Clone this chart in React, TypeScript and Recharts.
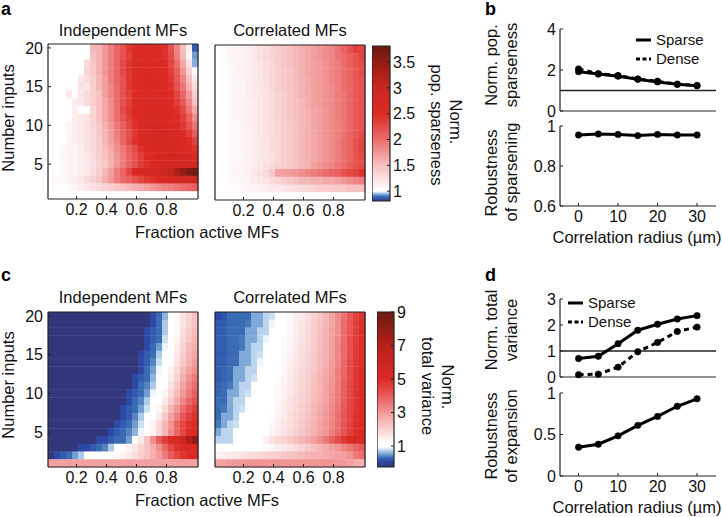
import {
  Bar,
  BarChart,
  Line,
  LineChart,
  ReferenceLine,
  Scatter,
  ScatterChart,
  XAxis,
  YAxis,
} from "recharts";

const FONT = "'Liberation Sans', Arial, sans-serif";
const INK = "#222";

// column and row positions of the heat maps
const fractions = [
  0.03, 0.07, 0.11, 0.15, 0.19, 0.23, 0.27, 0.31, 0.35, 0.39, 0.43, 0.47, 0.51,
  0.55, 0.59, 0.63, 0.67, 0.71, 0.75, 0.79, 0.83, 0.87, 0.91, 0.95, 0.99,
];
const inputs = [20, 19, 18, 17, 16, 15, 14, 13, 12, 11, 10, 9, 8, 7, 6, 5, 4, 3, 2, 1];

const fractionTicks = [0.2, 0.4, 0.6, 0.8];
const inputTicks = [5, 10, 15, 20];
const radiusTicks = [0, 10, 20, 30];
const radii = [0, 5, 10, 15, 20, 25, 30];

// rows run from 20 inputs (top) down to 1 input (bottom)
const sparsenessIndependent = [
  [1, 1, 1, 1, 1, 1, 1, 1.55, 1.6, 1.75, 1.9, 2.05, 2.2, 2.4, 2.5, 2.55, 2.55, 2.55, 2.5, 2.45, 2.2, 1.85, 1.5, 1.15, 0.87],
  [1, 1, 1, 1, 1, 1, 1, 1.5, 1.6, 1.75, 1.9, 2.05, 2.2, 2.35, 2.5, 2.55, 2.6, 2.6, 2.55, 2.45, 2.25, 1.9, 1.55, 1.1, 0.93],
  [1, 1, 1, 1, 1, 1, 1.3, 1.45, 1.6, 1.75, 1.9, 2.05, 2.25, 2.4, 2.5, 2.6, 2.6, 2.6, 2.55, 2.5, 2.3, 2, 1.65, 1.25, 0.94],
  [1, 1, 1, 1, 1, 1, 1.35, 1.45, 1.6, 1.75, 1.9, 2.05, 2.25, 2.4, 2.5, 2.6, 2.6, 2.6, 2.55, 2.5, 2.35, 2.1, 1.75, 1.35, 1.05],
  [1, 1, 1, 1, 1, 1.2, 1.3, 1.4, 1.55, 1.7, 1.9, 2.05, 2.2, 2.4, 2.5, 2.6, 2.6, 2.6, 2.6, 2.5, 2.4, 2.15, 1.85, 1.5, 1.2],
  [1, 1, 1, 1, 1, 1.25, 1.2, 1.4, 1.55, 1.7, 1.85, 2, 2.2, 2.4, 2.5, 2.6, 2.6, 2.65, 2.6, 2.55, 2.45, 2.2, 1.95, 1.6, 1.3],
  [1, 1, 1, 1.2, 1, 1.2, 1.3, 1.4, 1.5, 1.7, 1.85, 2, 2.2, 2.35, 2.5, 2.6, 2.6, 2.65, 2.6, 2.6, 2.5, 2.3, 2.05, 1.75, 1.4],
  [1, 1, 1, 1, 1.15, 1.2, 1.3, 1.4, 1.5, 1.65, 1.8, 2, 2.2, 2.35, 2.5, 2.6, 2.65, 2.65, 2.65, 2.6, 2.5, 2.35, 2.15, 1.85, 1.5],
  [1, 1, 1, 1, 1.15, 1, 1, 1.35, 1.5, 1.65, 1.8, 2, 2.25, 2.4, 2.55, 2.6, 2.65, 2.7, 2.65, 2.6, 2.55, 2.45, 2.25, 1.95, 1.65],
  [1, 1, 1, 1, 1.15, 1.2, 1.25, 1.35, 1.5, 1.65, 1.8, 2, 2.2, 2.35, 2.5, 2.6, 2.65, 2.7, 2.65, 2.65, 2.6, 2.5, 2.35, 2.1, 1.8],
  [1, 1, 1, 1.1, 1.15, 1.2, 1.25, 1.35, 1.45, 1.6, 1.75, 1.95, 2.1, 2.3, 2.45, 2.6, 2.65, 2.7, 2.7, 2.65, 2.6, 2.55, 2.4, 2.2, 1.95],
  [1, 1, 1, 1.1, 1.15, 1.2, 1.25, 1.3, 1.45, 1.55, 1.7, 1.9, 2.05, 2.2, 2.4, 2.55, 2.6, 2.7, 2.7, 2.7, 2.7, 2.6, 2.5, 2.35, 2.1],
  [1, 1, 1, 1.1, 1.15, 1.2, 1.25, 1.3, 1.4, 1.55, 1.7, 1.85, 2.05, 2.25, 2.45, 2.6, 2.7, 2.75, 2.75, 2.75, 2.7, 2.7, 2.6, 2.5, 2.3],
  [1, 1, 1.05, 1.1, 1.1, 1.15, 1.25, 1.3, 1.4, 1.5, 1.65, 1.8, 1.95, 2.1, 2.25, 2.45, 2.6, 2.7, 2.75, 2.75, 2.75, 2.7, 2.65, 2.55, 2.45],
  [1, 1, 1.05, 1.1, 1.1, 1.15, 1.2, 1.3, 1.4, 1.5, 1.6, 1.75, 1.9, 2.05, 2.2, 2.35, 2.5, 2.6, 2.7, 2.75, 2.75, 2.75, 2.7, 2.7, 2.6],
  [1, 1.03, 1.05, 1.1, 1.1, 1.15, 1.2, 1.25, 1.35, 1.45, 1.6, 1.75, 1.9, 2.05, 2.2, 2.35, 2.45, 2.6, 2.65, 2.7, 2.75, 2.75, 2.75, 2.75, 2.7],
  [1, 1.03, 1.05, 1.1, 1.1, 1.15, 1.2, 1.3, 1.4, 1.55, 1.7, 1.9, 2.05, 2.3, 2.6, 2.7, 2.75, 2.85, 2.85, 2.95, 3.1, 3.3, 3.5, 3.65, 3.75],
  [1, 1.05, 1.05, 1.1, 1.15, 1.2, 1.3, 1.35, 1.45, 1.6, 1.75, 1.9, 2, 2.1, 2.2, 2.3, 2.4, 2.45, 2.55, 2.6, 2.7, 2.75, 2.8, 2.85, 2.9],
  [1, 1.03, 1.03, 1.05, 1.1, 1.15, 1.2, 1.25, 1.3, 1.35, 1.4, 1.45, 1.5, 1.55, 1.6, 1.65, 1.7, 1.75, 1.8, 1.85, 1.9, 1.95, 2, 2.05, 2.1],
  [1, 1, 1, 1, 1, 1, 1, 1, 1, 1, 1, 1, 1, 1, 1, 1, 1, 1, 1, 1, 1, 1, 1, 1, 1],
];

const sparsenessCorrelated = [
  [1, 1.03, 1.08, 1.1, 1.12, 1.15, 1.2, 1.25, 1.3, 1.35, 1.4, 1.45, 1.5, 1.55, 1.6, 1.65, 1.7, 1.75, 1.8, 1.85, 1.95, 2.05, 2.2, 2.35, 2.3],
  [1, 1.03, 1.07, 1.1, 1.12, 1.15, 1.2, 1.25, 1.3, 1.35, 1.4, 1.45, 1.5, 1.55, 1.6, 1.65, 1.7, 1.75, 1.8, 1.85, 1.95, 2, 2.1, 2.2, 2.3],
  [1, 1.03, 1.07, 1.1, 1.12, 1.15, 1.2, 1.22, 1.28, 1.33, 1.4, 1.45, 1.5, 1.55, 1.6, 1.65, 1.7, 1.72, 1.78, 1.85, 1.9, 2, 2.1, 2.2, 2.25],
  [1, 1.03, 1.06, 1.1, 1.12, 1.15, 1.18, 1.22, 1.28, 1.33, 1.38, 1.43, 1.48, 1.53, 1.6, 1.65, 1.7, 1.72, 1.78, 1.85, 1.9, 1.98, 2.05, 2.15, 2.25],
  [1, 1.03, 1.06, 1.08, 1.1, 1.15, 1.18, 1.22, 1.26, 1.32, 1.38, 1.42, 1.48, 1.53, 1.58, 1.63, 1.68, 1.72, 1.78, 1.85, 1.9, 1.98, 2.05, 2.15, 2.2],
  [1, 1.03, 1.06, 1.08, 1.1, 1.15, 1.18, 1.2, 1.26, 1.32, 1.38, 1.42, 1.48, 1.52, 1.58, 1.62, 1.68, 1.72, 1.78, 1.82, 1.9, 1.98, 2.05, 2.15, 2.2],
  [1, 1.03, 1.05, 1.08, 1.1, 1.15, 1.18, 1.2, 1.25, 1.3, 1.36, 1.4, 1.46, 1.52, 1.58, 1.62, 1.68, 1.72, 1.78, 1.82, 1.9, 1.95, 2.05, 2.15, 2.2],
  [1, 1.03, 1.05, 1.08, 1.1, 1.13, 1.16, 1.2, 1.25, 1.3, 1.36, 1.4, 1.45, 1.5, 1.55, 1.62, 1.68, 1.72, 1.78, 1.82, 1.9, 1.95, 2.05, 2.15, 2.2],
  [1, 1.02, 1.05, 1.08, 1.1, 1.13, 1.16, 1.2, 1.25, 1.3, 1.35, 1.4, 1.45, 1.5, 1.55, 1.6, 1.66, 1.7, 1.76, 1.82, 1.88, 1.95, 2.05, 2.15, 2.2],
  [1, 1.02, 1.05, 1.08, 1.1, 1.13, 1.16, 1.2, 1.24, 1.3, 1.35, 1.4, 1.45, 1.5, 1.55, 1.6, 1.66, 1.7, 1.76, 1.82, 1.88, 1.95, 2.05, 2.15, 2.2],
  [1, 1.02, 1.05, 1.07, 1.1, 1.13, 1.16, 1.2, 1.24, 1.28, 1.34, 1.4, 1.45, 1.5, 1.55, 1.6, 1.66, 1.7, 1.76, 1.82, 1.88, 1.95, 2.05, 2.15, 2.2],
  [1, 1.02, 1.05, 1.07, 1.1, 1.12, 1.15, 1.18, 1.24, 1.28, 1.34, 1.4, 1.44, 1.5, 1.55, 1.6, 1.65, 1.7, 1.76, 1.82, 1.88, 1.95, 2.05, 2.15, 2.25],
  [1, 1.02, 1.04, 1.07, 1.1, 1.12, 1.15, 1.18, 1.22, 1.28, 1.32, 1.38, 1.44, 1.5, 1.55, 1.6, 1.65, 1.7, 1.76, 1.82, 1.9, 1.98, 2.05, 2.2, 2.3],
  [1, 1.02, 1.04, 1.07, 1.1, 1.12, 1.15, 1.18, 1.22, 1.28, 1.32, 1.38, 1.44, 1.5, 1.55, 1.6, 1.65, 1.7, 1.76, 1.82, 1.9, 1.98, 2.05, 2.2, 2.3],
  [1, 1.02, 1.04, 1.06, 1.08, 1.12, 1.15, 1.18, 1.22, 1.26, 1.32, 1.38, 1.44, 1.5, 1.55, 1.6, 1.65, 1.7, 1.76, 1.82, 1.9, 1.98, 2.05, 2.2, 2.25],
  [1, 1.03, 1.05, 1.08, 1.1, 1.12, 1.15, 1.2, 1.25, 1.3, 1.35, 1.4, 1.45, 1.5, 1.55, 1.6, 1.7, 1.75, 1.8, 1.85, 1.95, 2, 2.1, 2.2, 2.25],
  [1, 1.03, 1.05, 1.08, 1.1, 1.12, 1.2, 1.25, 1.3, 1.45, 1.68, 1.7, 1.72, 1.75, 1.8, 1.85, 1.9, 1.95, 2, 2.05, 2.1, 2.2, 2.25, 2.3, 2.45],
  [1, 1.02, 1.04, 1.06, 1.08, 1.1, 1.15, 1.2, 1.25, 1.3, 1.35, 1.4, 1.45, 1.5, 1.55, 1.55, 1.6, 1.6, 1.65, 1.65, 1.7, 1.75, 1.8, 1.85, 1.9],
  [1, 1, 1.02, 1.04, 1.06, 1.08, 1.1, 1.12, 1.15, 1.18, 1.2, 1.22, 1.25, 1.28, 1.3, 1.32, 1.35, 1.38, 1.4, 1.42, 1.45, 1.45, 1.5, 1.5, 1.5],
  [1, 1, 1, 1, 1, 1, 1, 1, 1, 1, 1, 1, 1, 1, 1, 1, 1, 1, 1, 1, 1, 1, 1, 1, 1],
];

const N = -0.25; // saturated navy cells
const varianceIndependent = [
  [N, N, N, N, N, N, N, N, N, N, N, N, N, N, N, N, N, 0.1, 0.3, 0.6, 1, 1.3, 1.7, 2, 2.3],
  [N, N, N, N, N, N, N, N, N, N, N, N, N, N, N, N, N, 0.1, 0.3, 0.7, 1, 1.3, 1.7, 2, 2.3],
  [N, N, N, N, N, N, N, N, N, N, N, N, N, N, N, N, 0.1, 0.2, 0.3, 0.7, 1, 1.3, 1.8, 2.1, 2.4],
  [N, N, N, N, N, N, N, N, N, N, N, N, N, N, N, N, 0.1, 0.2, 0.3, 0.8, 1, 1.4, 1.9, 2.2, 2.5],
  [N, N, N, N, N, N, N, N, N, N, N, N, N, N, N, N, 0.1, 0.3, 0.5, 0.9, 1, 1.5, 2, 2.4, 2.6],
  [N, N, N, N, N, N, N, N, N, N, N, N, N, N, N, 0.1, 0.2, 0.3, 0.7, 1, 1.1, 1.6, 2.1, 2.5, 2.8],
  [N, N, N, N, N, N, N, N, N, N, N, N, N, N, N, 0.1, 0.2, 0.4, 0.8, 1, 1.2, 1.7, 2.2, 2.6, 3],
  [N, N, N, N, N, N, N, N, N, N, N, N, N, N, N, 0.1, 0.3, 0.5, 0.9, 1, 1.4, 1.9, 2.4, 2.9, 3.2],
  [N, N, N, N, N, N, N, N, N, N, N, N, N, N, 0.1, 0.2, 0.3, 0.6, 1, 1.1, 1.5, 2, 2.6, 3.1, 3.5],
  [N, N, N, N, N, N, N, N, N, N, N, N, N, N, 0.1, 0.3, 0.4, 0.7, 1, 1.2, 1.7, 2.2, 2.8, 3.3, 3.7],
  [N, N, N, N, N, N, N, N, N, N, N, N, N, 0.1, 0.2, 0.3, 0.5, 0.9, 1, 1.4, 1.9, 2.4, 3, 3.5, 3.9],
  [N, N, N, N, N, N, N, N, N, N, N, N, N, 0.1, 0.3, 0.4, 0.7, 1, 1.1, 1.6, 2.1, 2.7, 3.3, 3.8, 4.2],
  [N, N, N, N, N, N, N, N, N, N, N, N, 0.1, 0.2, 0.3, 0.5, 0.8, 1, 1.4, 1.9, 2.5, 3.1, 3.7, 4.2, 4.6],
  [N, N, N, N, N, N, N, N, N, N, N, N, 0.1, 0.2, 0.4, 0.7, 1, 1.2, 1.6, 2.2, 2.8, 3.4, 4, 4.5, 4.9],
  [N, N, N, N, N, N, N, N, N, N, N, 0.1, 0.2, 0.3, 0.5, 0.8, 1, 1.4, 1.9, 2.5, 3.1, 3.8, 4.4, 4.8, 5],
  [N, N, N, N, N, N, N, N, N, N, 0.1, 0.2, 0.3, 0.4, 0.6, 0.9, 1, 1.4, 1.9, 2.5, 3.2, 3.8, 4.4, 4.9, 5],
  [N, N, N, N, N, N, N, N, 0.1, 0.1, 0.2, 0.3, 0.3, 0.5, 1.1, 1.6, 2.3, 3.2, 4, 4.6, 5, 5.3, 6, 7.2, 8],
  [N, N, N, N, N, 0.1, 0.1, 0.2, 0.3, 0.4, 0.7, 1, 1.2, 1.4, 1.6, 2, 2.3, 2.7, 3.2, 3.8, 4.4, 4.8, 5, 5.1, 5.2],
  [N, 0.1, 0.2, 0.3, 0.5, 0.7, 1, 1, 1.05, 1.1, 1.2, 1.3, 1.4, 1.6, 1.8, 2, 2.3, 2.6, 3, 3.5, 4, 4.4, 4.8, 5, 5.1],
  [2.9, 2.9, 2.9, 2.9, 2.9, 2.9, 2.9, 2.9, 2.9, 2.9, 2.9, 2.9, 2.9, 2.9, 2.9, 2.9, 2.9, 2.9, 2.9, 2.9, 2.9, 2.9, 2.9, 2.9, 2.9],
];

const varianceCorrelated = [
  [0.1, 0.15, 0.3, 0.3, 0.3, 0.3, 0.55, 0.55, 0.75, 0.8, 1, 1.15, 1.3, 1.5, 1.6, 1.8, 2, 2.2, 2.5, 2.8, 3.2, 3.6, 4, 4.5, 4.8],
  [0.2, 0.2, 0.3, 0.3, 0.3, 0.35, 0.55, 0.55, 0.75, 0.9, 1, 1.15, 1.3, 1.5, 1.65, 1.85, 2.05, 2.25, 2.5, 2.8, 3.2, 3.7, 4.1, 4.6, 4.9],
  [0.2, 0.2, 0.3, 0.3, 0.3, 0.55, 0.55, 0.75, 0.75, 1, 1.05, 1.2, 1.35, 1.5, 1.7, 1.85, 2.05, 2.3, 2.55, 2.85, 3.2, 3.7, 4.1, 4.6, 4.9],
  [0.2, 0.2, 0.3, 0.3, 0.35, 0.55, 0.55, 0.75, 0.9, 1, 1.1, 1.25, 1.4, 1.55, 1.7, 1.9, 2.1, 2.3, 2.55, 2.85, 3.25, 3.7, 4.2, 4.6, 4.9],
  [0.2, 0.2, 0.3, 0.3, 0.35, 0.55, 0.75, 0.75, 1, 1, 1.1, 1.25, 1.4, 1.6, 1.75, 1.9, 2.1, 2.35, 2.6, 2.9, 3.3, 3.75, 4.2, 4.7, 4.9],
  [0.2, 0.2, 0.3, 0.3, 0.55, 0.55, 0.75, 0.8, 1, 1, 1.15, 1.3, 1.45, 1.6, 1.8, 1.95, 2.15, 2.4, 2.6, 2.9, 3.3, 3.75, 4.2, 4.7, 4.9],
  [0.2, 0.2, 0.3, 0.3, 0.55, 0.55, 0.75, 0.9, 1, 1, 1.2, 1.3, 1.5, 1.65, 1.8, 2, 2.2, 2.4, 2.65, 2.95, 3.3, 3.8, 4.3, 4.7, 4.9],
  [0.2, 0.25, 0.3, 0.55, 0.55, 0.75, 0.75, 1, 1, 1, 1.2, 1.35, 1.5, 1.7, 1.85, 2, 2.2, 2.45, 2.7, 3, 3.4, 3.8, 4.3, 4.7, 4.95],
  [0.2, 0.25, 0.3, 0.55, 0.55, 0.75, 0.8, 1, 1, 1, 1.25, 1.4, 1.55, 1.75, 1.9, 2.05, 2.25, 2.5, 2.75, 3.05, 3.4, 3.85, 4.3, 4.75, 5],
  [0.25, 0.3, 0.35, 0.55, 0.75, 0.75, 1, 1, 1, 1, 1.3, 1.45, 1.6, 1.75, 1.95, 2.1, 2.3, 2.5, 2.8, 3.1, 3.45, 3.9, 4.35, 4.75, 5],
  [0.25, 0.3, 0.55, 0.55, 0.75, 0.8, 1, 1, 1, 1.1, 1.3, 1.45, 1.65, 1.8, 2, 2.15, 2.35, 2.55, 2.85, 3.15, 3.5, 3.9, 4.4, 4.8, 5],
  [0.3, 0.3, 0.55, 0.75, 0.75, 1, 1, 1, 1, 1.15, 1.35, 1.5, 1.7, 1.85, 2, 2.2, 2.4, 2.6, 2.9, 3.2, 3.5, 3.95, 4.4, 4.8, 5],
  [0.3, 0.35, 0.55, 0.75, 0.8, 1, 1, 1, 1.05, 1.2, 1.4, 1.55, 1.7, 1.9, 2.05, 2.25, 2.45, 2.7, 2.95, 3.25, 3.6, 4, 4.4, 4.8, 5],
  [0.3, 0.55, 0.55, 0.75, 1, 1, 1, 1, 1.1, 1.25, 1.45, 1.6, 1.75, 1.95, 2.1, 2.3, 2.5, 2.75, 3, 3.3, 3.65, 4.05, 4.45, 4.85, 5.05],
  [0.35, 0.55, 0.75, 0.8, 1, 1, 1, 1.05, 1.15, 1.3, 1.5, 1.65, 1.8, 2, 2.15, 2.35, 2.55, 2.8, 3.05, 3.35, 3.7, 4.1, 4.5, 4.85, 5.05],
  [0.55, 0.75, 0.75, 1, 1, 1, 1.05, 1.1, 1.2, 1.4, 1.55, 1.7, 1.85, 2.05, 2.2, 2.4, 2.6, 2.85, 3.1, 3.4, 3.75, 4.15, 4.55, 4.9, 5.1],
  [0.75, 0.75, 0.75, 1, 1, 1, 1.1, 1.2, 1.5, 1.75, 1.9, 2, 2.2, 2.35, 2.5, 2.7, 2.9, 3.2, 3.5, 3.9, 4.3, 4.7, 5, 5.2, 5.3],
  [1, 1, 1, 1, 1, 1.05, 1.1, 1.2, 1.3, 1.4, 1.5, 1.6, 1.7, 1.85, 2, 2.15, 2.3, 2.5, 2.7, 2.9, 3.1, 3.35, 3.6, 3.8, 4],
  [1.4, 1.5, 1.6, 1.65, 1.7, 1.8, 1.85, 1.9, 2, 2.05, 2.1, 2.2, 2.25, 2.3, 2.4, 2.5, 2.55, 2.6, 2.7, 2.75, 2.85, 2.9, 3.1, 3.5, 3.7],
  [2.9, 2.9, 3, 3, 3, 3.1, 3.1, 3.1, 3.1, 3.1, 3.1, 3.1, 3.1, 3.1, 3.1, 3.1, 3.1, 3.1, 3.1, 3.1, 3, 3, 2.9, 2.7, 2.6],
];

// line panels
const sparsenessSparse = [1.92, 1.8, 1.7, 1.55, 1.42, 1.3, 1.23];
const sparsenessDense = [2.05, 1.82, 1.73, 1.56, 1.45, 1.31, 1.25];
const sparseningRobustness = [0.955, 0.96, 0.958, 0.952, 0.958, 0.955, 0.955];
const varianceSparse = [0.71, 0.8, 1.28, 1.8, 2.03, 2.23, 2.36];
const varianceDense = [0.09, 0.11, 0.38, 0.97, 1.33, 1.75, 1.92];
const expansionRobustness = [0.347, 0.383, 0.484, 0.61, 0.718, 0.84, 0.93];

type Stop = [number, string];

const sparsenessStops: Stop[] = [
  [0.81, "#2b3a8c"], [0.9, "#3a6fb7"], [0.96, "#a9cbe9"], [1, "#ffffff"], [1.15, "#fdeeee"],
  [1.5, "#f7c1c1"], [2, "#ec6c6c"], [2.5, "#dc2a24"], [3, "#c92620"], [3.4, "#a01d14"], [3.81, "#6a1a10"],
];
const varianceStops: Stop[] = [
  [-0.25, "#32367a"], [0.1, "#2c49a8"], [0.3, "#3a6cb6"], [0.55, "#7fa9d6"], [0.75, "#bcd5ee"],
  [0.95, "#ffffff"], [1.2, "#ffffff"], [3, "#f29a9a"], [4, "#e85a5a"], [5, "#dc2a24"], [7, "#b8211a"], [9, "#6a1a10"],
];

function colorAt(stops: Stop[], v: number) {
  for (let i = 1; i < stops.length; i++) {
    if (v <= stops[i][0]) {
      const [a, ca] = stops[i - 1];
      const [b, cb] = stops[i];
      const t = Math.max(0, (v - a) / (b - a));
      const mix = [1, 3, 5].map((k) => {
        const p = parseInt(ca.slice(k, k + 2), 16);
        const q = parseInt(cb.slice(k, k + 2), 16);
        return Math.round(p + (q - p) * t);
      });
      return `rgb(${mix.join(",")})`;
    }
  }
  return stops[stops.length - 1][1];
}

const toCells = (rows: number[][]) =>
  rows.flatMap((row, i) => row.map((v, j) => ({ x: fractions[j], y: inputs[i], v })));

const tickStyle = { fontSize: 16, fill: "#111", fontFamily: FONT };
const axisLine = { stroke: INK, strokeWidth: 1.2 };
const tickLine = { stroke: INK, strokeWidth: 1 };

interface HeatProps {
  rows: number[][];
  stops: Stop[];
  left: number;
  top: number;
  showY?: boolean;
}

function Heatmap({ rows, stops, left, top, showY }: HeatProps) {
  const w = 150;
  const h = 155;
  const cw = w / fractions.length;
  const ch = h / inputs.length;
  return (
    <div style={{ position: "absolute", left: left - 46, top: top - 6 }}>
      <ScatterChart width={w + 56} height={h + 36} margin={{ top: 5, right: 9, bottom: 0, left: 0 }}>
        <Scatter
          data={toCells(rows)}
          isAnimationActive={false}
          zIndex={100}
          shape={(p: any) => (
            <rect
              x={p.cx - cw / 2}
              y={p.cy - ch / 2}
              width={cw + 0.4}
              height={ch + 0.4}
              fill={colorAt(stops, p.payload.v)}
            />
          )}
        />
        <XAxis
          type="number"
          dataKey="x"
          domain={[0.01, 1.01]}
          ticks={fractionTicks}
          height={30}
          tickSize={-3}
          tickMargin={8}
          axisLine={axisLine}
          tickLine={tickLine}
          tick={tickStyle}
          interval={0}
          zIndex={700}
        />
        <XAxis
          xAxisId="top"
          orientation="top"
          type="number"
          domain={[0.01, 1.01]}
          ticks={fractionTicks}
          height={1}
          tickSize={-3}
          axisLine={axisLine}
          tickLine={tickLine}
          tick={false}
          zIndex={700}
        />
        <YAxis
          type="number"
          dataKey="y"
          domain={[0.5, 20.5]}
          ticks={inputTicks}
          width={46}
          tickSize={-3}
          tickMargin={8}
          axisLine={axisLine}
          tickLine={tickLine}
          tick={showY ? tickStyle : false}
          interval={0}
          zIndex={700}
        />
        <YAxis
          yAxisId="right"
          orientation="right"
          type="number"
          domain={[0.5, 20.5]}
          ticks={inputTicks}
          width={1}
          tickSize={-3}
          axisLine={axisLine}
          tickLine={tickLine}
          tick={false}
          zIndex={700}
        />
      </ScatterChart>
    </div>
  );
}

interface BarProps {
  id: string;
  stops: Stop[];
  ticks: number[];
  left: number;
  top: number;
  width: number;
}

function Colorbar({ id, stops, ticks, left, top, width }: BarProps) {
  const lo = stops[0][0];
  const hi = stops[stops.length - 1][0];
  return (
    <div style={{ position: "absolute", left, top: top - 12 }}>
      <BarChart
        width={width + 36}
        height={155 + 24}
        data={[{ name: "scale", range: [lo, hi] }]}
        margin={{ top: 12, right: 0, bottom: 12, left: 0 }}
        barCategoryGap={0}
      >
        <defs>
          <linearGradient id={id} x1="0" y1="0" x2="0" y2="1">
            {[...stops].reverse().map(([v, c]) => (
              <stop key={v} offset={(hi - v) / (hi - lo)} stopColor={c} />
            ))}
          </linearGradient>
        </defs>
        <XAxis dataKey="name" hide />
        <YAxis
          orientation="right"
          type="number"
          domain={[lo, hi]}
          ticks={ticks}
          width={36}
          tickSize={-3}
          tickMargin={6}
          axisLine={false}
          tickLine={tickLine}
          tick={tickStyle}
          interval={0}
        />
        <Bar dataKey="range" fill={`url(#${id})`} stroke={INK} strokeWidth={1.2} isAnimationActive={false} />
      </BarChart>
    </div>
  );
}

interface LinePanelProps {
  top: number;
  height: number;
  domain: [number, number];
  yTicks: number[];
  series: { name: string; values: number[]; dashed?: boolean }[];
  reference?: number;
  showX?: boolean;
}

function LinePanel({ top, height, domain, yTicks, series, reference, showX }: LinePanelProps) {
  const rows = radii.map((r, i) => {
    const row: Record<string, number> = { r };
    series.forEach((s) => (row[s.name] = s.values[i]));
    return row;
  });
  return (
    <div style={{ position: "absolute", left: 510, top: top - 12 }}>
      <LineChart width={210} height={height + 42} data={rows} margin={{ top: 12, right: 4, bottom: 0, left: 0 }}>
        <XAxis
          type="number"
          dataKey="r"
          domain={[-4.7, 34.8]}
          ticks={radiusTicks}
          height={30}
          tickSize={-3}
          tickMargin={8}
          axisLine={axisLine}
          tickLine={tickLine}
          tick={showX ? tickStyle : false}
          interval={0}
        />
        <YAxis
          type="number"
          domain={domain}
          ticks={yTicks}
          width={50}
          tickSize={-3}
          tickMargin={7}
          axisLine={axisLine}
          tickLine={tickLine}
          tick={tickStyle}
          interval={0}
        />
        {reference !== undefined && <ReferenceLine y={reference} stroke={INK} strokeWidth={1.3} />}
        {series.map((s) => (
          <Line
            key={s.name}
            dataKey={s.name}
            stroke="#000"
            strokeWidth={3}
            strokeDasharray={s.dashed ? "5 4" : undefined}
            dot={{ r: 3.2, fill: "#000", stroke: "#000", strokeWidth: 0.6, strokeDasharray: "" }}
            isAnimationActive={false}
          />
        ))}
      </LineChart>
    </div>
  );
}

function Rot({ x, y, angle = -90, children }: { x: number; y: number; angle?: number; children: string }) {
  return (
    <text x={x} y={y} textAnchor="middle" transform={`rotate(${angle} ${x} ${y})`}>
      {children}
    </text>
  );
}

function Mid({ x, y, children }: { x: number; y: number; children: string }) {
  return (
    <text x={x} y={y} textAnchor="middle">
      {children}
    </text>
  );
}

function LegendKey({ x, y, label }: { x: number; y: number; label: string }) {
  const dashed = label === "Dense";
  return (
    <g>
      <line
        x1={x}
        x2={x + 15}
        y1={y}
        y2={y}
        stroke="#000"
        strokeWidth={3}
        strokeDasharray={dashed ? "4 2.5" : undefined}
      />
      <text x={x + 20} y={y + 5} fontSize={15}>
        {label}
      </text>
    </g>
  );
}

export default function App() {
  return (
    <div style={{ position: "absolute", left: 0, top: 0, width: 722, height: 517, background: "#fff", fontFamily: FONT }}>
      <Heatmap rows={sparsenessIndependent} stops={sparsenessStops} left={48} top={44} showY />
      <Heatmap rows={sparsenessCorrelated} stops={sparsenessStops} left={215} top={45} />
      <Colorbar id="cbSparseness" stops={sparsenessStops} ticks={[1, 1.5, 2, 2.5, 3, 3.5]} left={372} top={46} width={18} />

      <Heatmap rows={varianceIndependent} stops={varianceStops} left={48} top={312} showY />
      <Heatmap rows={varianceCorrelated} stops={varianceStops} left={215} top={312} />
      <Colorbar id="cbVariance" stops={varianceStops} ticks={[1, 3, 5, 7, 9]} left={377} top={312} width={17} />

      <LinePanel
        top={29}
        height={82}
        domain={[0, 4]}
        yTicks={[0, 2, 4]}
        reference={1}
        series={[
          { name: "Dense", values: sparsenessDense, dashed: true },
          { name: "Sparse", values: sparsenessSparse },
        ]}
      />
      <LinePanel
        top={126}
        height={80}
        domain={[0.6, 1]}
        yTicks={[0.6, 0.8, 1]}
        series={[{ name: "Robustness", values: sparseningRobustness }]}
        showX
      />
      <LinePanel
        top={299}
        height={78}
        domain={[0, 3]}
        yTicks={[0, 1, 2, 3]}
        reference={1}
        series={[
          { name: "Dense", values: varianceDense, dashed: true },
          { name: "Sparse", values: varianceSparse },
        ]}
      />
      <LinePanel
        top={393}
        height={83}
        domain={[0, 1]}
        yTicks={[0, 0.5, 1]}
        series={[{ name: "Robustness", values: expansionRobustness }]}
        showX
      />

      <svg width={722} height={517} style={{ position: "absolute", left: 0, top: 0, pointerEvents: "none" }} fontFamily={FONT} fontSize={16.5} fill="#111">
        <g fontSize={18} fontWeight="bold" fill="#000">
          <text x={1} y={15}>a</text>
          <text x={485} y={15}>b</text>
          <text x={1} y={281}>c</text>
          <text x={485} y={281}>d</text>
        </g>
        <Mid x={123} y={36}>Independent MFs</Mid>
        <Mid x={290} y={36}>Correlated MFs</Mid>
        <Mid x={123} y={303}>Independent MFs</Mid>
        <Mid x={290} y={303}>Correlated MFs</Mid>
        <Mid x={207} y={238}>Fraction active MFs</Mid>
        <Mid x={207} y={506}>Fraction active MFs</Mid>
        <Rot x={14} y={118}>Number inputs</Rot>
        <Rot x={14} y={385}>Number inputs</Rot>
        <Rot x={450} y={122} angle={90}>Norm.</Rot>
        <Rot x={431} y={125} angle={90}>pop. sparseness</Rot>
        <Rot x={442} y={387} angle={90}>Norm.</Rot>
        <Rot x={422} y={386} angle={90}>total variance</Rot>
        <Rot x={497} y={65}>Norm. pop.</Rot>
        <Rot x={517} y={65}>sparseness</Rot>
        <Rot x={497} y={173}>Robustness</Rot>
        <Rot x={517} y={172}>of sparsening</Rot>
        <Rot x={497} y={330}>Norm. total</Rot>
        <Rot x={517} y={330}>variance</Rot>
        <Rot x={497} y={436}>Robustness</Rot>
        <Rot x={517} y={436}>of expansion</Rot>
        <Mid x={637} y={243}>Correlation radius (µm)</Mid>
        <Mid x={637} y={513}>Correlation radius (µm)</Mid>
        <LegendKey x={636} y={40} label="Sparse" />
        <LegendKey x={636} y={59} label="Dense" />
        <LegendKey x={568} y={303} label="Sparse" />
        <LegendKey x={568} y={322} label="Dense" />
      </svg>
    </div>
  );
}
